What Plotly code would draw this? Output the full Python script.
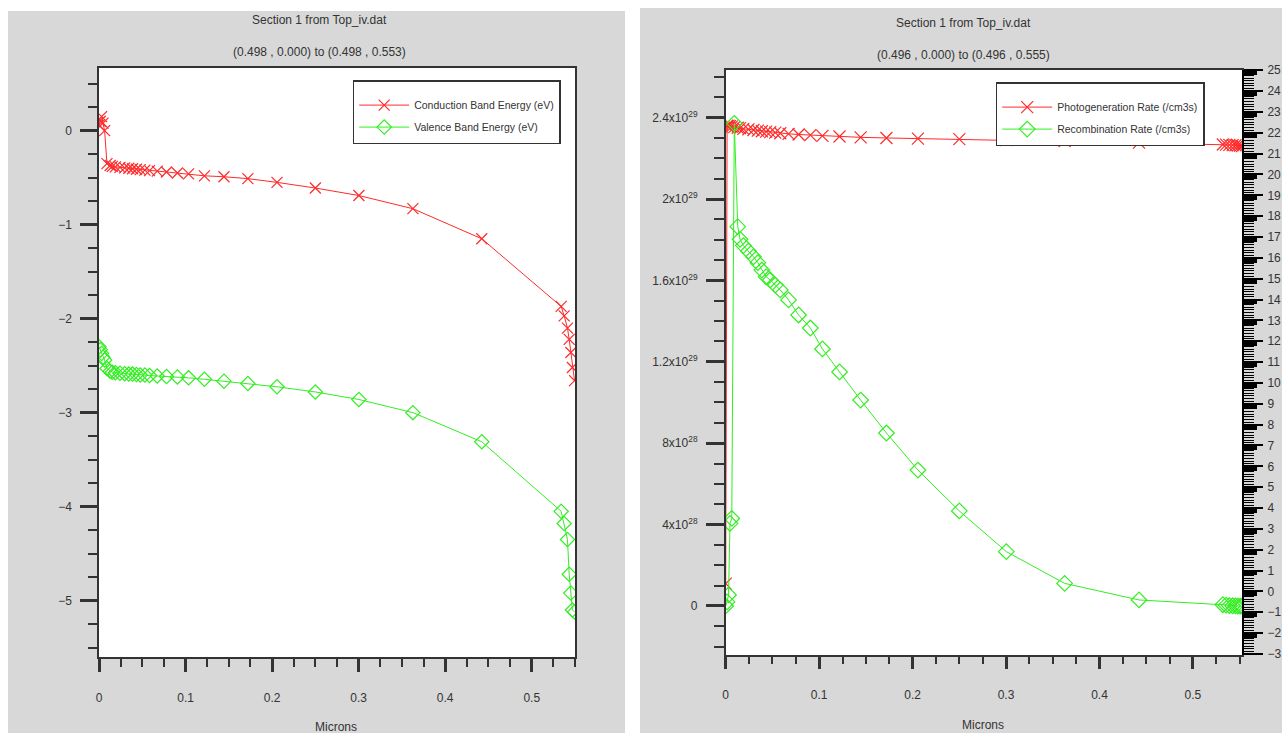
import plotly.graph_objects as go

# ---------------- data ----------------
microns_left = [0.0, 0.0015, 0.003, 0.0046, 0.0065, 0.0092, 0.0129, 0.0154, 0.0189, 0.0243,
                0.0297, 0.0344, 0.0387, 0.0433, 0.0476, 0.053, 0.0584, 0.0673, 0.078, 0.0906,
                0.1035, 0.1218, 0.1444, 0.172, 0.2057, 0.25, 0.3003, 0.3627, 0.4423,
                0.534, 0.5375, 0.5413, 0.5433, 0.5452, 0.547, 0.5495]
conduction_ev = [0.06, 0.10, 0.15, 0.08, 0.0, -0.35, -0.37, -0.38, -0.385, -0.39,
                 -0.395, -0.40, -0.405, -0.41, -0.415, -0.42, -0.425, -0.43, -0.44, -0.45,
                 -0.46, -0.48, -0.49, -0.51, -0.55, -0.61, -0.69, -0.83, -1.15,
                 -1.87, -1.97, -2.10, -2.22, -2.36, -2.52, -2.66]
valence_ev = [-2.30, -2.33, -2.37, -2.41, -2.44, -2.53, -2.56, -2.57, -2.575, -2.58,
              -2.585, -2.59, -2.59, -2.595, -2.60, -2.60, -2.605, -2.61, -2.615, -2.62,
              -2.63, -2.645, -2.665, -2.69, -2.725, -2.78, -2.86, -3.00, -3.31,
              -4.05, -4.18, -4.35, -4.72, -4.92, -5.10, -5.12]

microns_right = [0.0, 0.0015, 0.003, 0.0046, 0.0065, 0.0092, 0.0129, 0.0154, 0.0189, 0.0243,
                 0.0297, 0.0344, 0.0387, 0.0433, 0.0476, 0.053, 0.0584, 0.0673, 0.078, 0.0906,
                 0.1035, 0.1218, 0.1444, 0.172, 0.2057, 0.25, 0.3003, 0.3627, 0.4423,
                 0.532, 0.5355, 0.539, 0.5425, 0.5455, 0.548, 0.5505, 0.5525]
photogeneration = [1.1e28, 2.36e29, 2.36e29, 2.358e29, 2.356e29, 2.353e29, 2.35e29, 2.348e29, 2.345e29, 2.342e29,
                   2.339e29, 2.336e29, 2.333e29, 2.331e29, 2.329e29, 2.326e29, 2.323e29, 2.32e29, 2.317e29, 2.314e29,
                   2.31e29, 2.307e29, 2.303e29, 2.30e29, 2.297e29, 2.294e29, 2.29e29, 2.285e29, 2.277e29,
                   2.268e29, 2.267e29, 2.266e29, 2.265e29, 2.264e29, 2.263e29, 2.262e29, 2.26e29]
recombination = [0.0, 2e27, 5.4e27, 4.06e28, 4.3e28, 2.372e29, 1.864e29, 1.802e29, 1.771e29, 1.744e29,
                 1.716e29, 1.687e29, 1.651e29, 1.618e29, 1.602e29, 1.577e29, 1.553e29, 1.504e29, 1.43e29, 1.366e29,
                 1.263e29, 1.15e29, 1.012e29, 8.5e28, 6.68e28, 4.67e28, 2.67e28, 1.11e28, 2.95e27,
                 6e26, 4e26, 2e26, 1e26, 0.0, -1e26, -1e26, -1e26]

rate_tickvals = [0, 4e28, 8e28, 1.2e29, 1.6e29, 2e29, 2.4e29]
rate_ticktext = ["0", "4x10<sup>28</sup>", "8x10<sup>28</sup>", "1.2x10<sup>29</sup>",
                 "1.6x10<sup>29</sup>", "2x10<sup>29</sup>", "2.4x10<sup>29</sup>"]
right_scale_ticks = list(range(-3, 26))

left_title = "Section 1 from Top_iv.dat"
left_subtitle = "(0.498 , 0.000) to (0.498 , 0.553)"
right_title = "Section 1 from Top_iv.dat"
right_subtitle = "(0.496 , 0.000) to (0.496 , 0.555)"
x_title = "Microns"

# ---------------- helpers ----------------
W, H = 1282, 733


def px(p):
    return p / W


def py(p):
    return 1 - p / H


FONT = "Liberation Sans, Arial, sans-serif"
TXT = "#333333"
RED = "#ff2a2a"
GREEN = "#33ee22"
AX = "#333333"

fig = go.Figure()

fig.add_trace(go.Scatter(
    x=microns_left, y=conduction_ev, name="Conduction Band Energy (eV)",
    mode="lines+markers", line=dict(color=RED, width=1), legendgroup="a",
    marker=dict(symbol="x-thin", size=11, color=RED, line=dict(color=RED, width=1.2)),
    xaxis="x", yaxis="y", legend="legend"))
fig.add_trace(go.Scatter(
    x=microns_left, y=valence_ev, name="Valence Band Energy (eV)",
    mode="lines+markers", line=dict(color=GREEN, width=1), legendgroup="b",
    marker=dict(symbol="diamond-open", size=11, color=GREEN, line=dict(color=GREEN, width=1.2)),
    xaxis="x", yaxis="y", legend="legend"))
fig.add_trace(go.Scatter(
    x=microns_right, y=photogeneration, name="Photogeneration Rate (/cm3s)",
    mode="lines+markers", line=dict(color=RED, width=1), legendgroup="c",
    marker=dict(symbol="x-thin", size=12, color=RED, line=dict(color=RED, width=1.2)),
    xaxis="x2", yaxis="y2", legend="legend2"))
fig.add_trace(go.Scatter(
    x=microns_right, y=recombination, name="Recombination Rate (/cm3s)",
    mode="lines+markers", line=dict(color=GREEN, width=1), legendgroup="d",
    marker=dict(symbol="diamond-open", size=12, color=GREEN, line=dict(color=GREEN, width=1.2)),
    xaxis="x2", yaxis="y2", legend="legend2"))
fig.add_trace(go.Scatter(x=[None], y=[None], xaxis="x2", yaxis="y3",
                         showlegend=False, hoverinfo="skip"))
fig.add_trace(go.Scatter(x=[None], y=[None], xaxis="x2", yaxis="y4",
                         showlegend=False, hoverinfo="skip"))

tickfont = dict(family=FONT, size=12, color=TXT)
common = dict(showgrid=False, zeroline=False, showline=True, linecolor=AX, linewidth=1.5,
              mirror=True, ticks="outside", tickcolor=AX, tickfont=tickfont, fixedrange=True,
              automargin=False)

right_range = [-3.05, 25.01]
legend_common = dict(xanchor="left", yanchor="top", bgcolor="white", bordercolor=AX,
                     borderwidth=1.5, itemwidth=50, tracegroupgap=3,
                     font=dict(family=FONT, size=10.5, color=TXT),
                     title=dict(text="&nbsp;", font=dict(family=FONT, size=7)))

fig.update_layout(
    width=W, height=H,
    margin=dict(l=0, r=0, t=0, b=0, pad=0, autoexpand=False),
    paper_bgcolor="#d8d8d8",
    plot_bgcolor="white",
    showlegend=True,
    xaxis=dict(domain=[px(99), px(575)], anchor="y", range=[0, 0.55], dtick=0.1,
               ticklen=13, tickwidth=2.5, ticklabelstandoff=16,
               minor=dict(ticks="outside", dtick=0.025, ticklen=8, tickwidth=1.5, tickcolor=AX),
               **common),
    yaxis=dict(domain=[py(657), py(68)], anchor="x", range=[-5.6, 0.667], dtick=1,
               ticklen=17, tickwidth=3, ticklabelstandoff=6,
               minor=dict(ticks="outside", dtick=0.25, ticklen=9, tickwidth=1.8, tickcolor=AX),
               **common),
    xaxis2=dict(domain=[px(725.7), px(1242)], anchor="y2", range=[0, 0.5525], dtick=0.1,
                ticklen=12, tickwidth=2.5, ticklabelstandoff=16,
                minor=dict(ticks="outside", dtick=0.025, ticklen=7, tickwidth=1.5, tickcolor=AX),
                **common),
    yaxis2=dict(domain=[py(655), py(70)], anchor="x2", range=[-2.41e28, 2.634e29],
                tickmode="array", tickvals=rate_tickvals, ticktext=rate_ticktext,
                ticklen=18, tickwidth=3, ticklabelstandoff=6,
                minor=dict(ticks="outside", dtick=1e28, ticklen=10, tickwidth=1.8, tickcolor=AX),
                **common),
    yaxis3=dict(overlaying="y2", side="right", anchor="x2", range=right_range,
                tickmode="array", tickvals=right_scale_ticks, automargin=False,
                showgrid=False, zeroline=False, showline=True, linecolor="black", linewidth=2,
                ticks="outside", ticklen=19, tickwidth=2, tickcolor="black",
                ticklabelstandoff=2, tickfont=dict(family=FONT, size=12, color=TXT), fixedrange=True,
                minor=dict(ticks="outside", dtick=0.125, ticklen=10, tickwidth=1.4, tickcolor="black")),
    yaxis4=dict(overlaying="y2", side="right", anchor="x2", range=right_range,
                tickmode="array", tickvals=[t - 0.14 for t in right_scale_ticks], automargin=False,
                showticklabels=False, showgrid=False, zeroline=False, showline=False,
                ticks="outside", ticklen=14, tickwidth=3.5, tickcolor="black", fixedrange=True),
    legend=dict(x=px(352.7), y=py(80), **legend_common),
    legend2=dict(x=px(995.7), y=py(82), **legend_common),
)

# white page strips around the two grey panels
strips = [(0, 0, 8, H), (0, 0, 640, 11), (625, 0, 1282, 8), (625, 0, 640, H)]
for x0, y0, x1, y1 in strips:
    fig.add_shape(type="rect", xref="paper", yref="paper", x0=px(x0), x1=px(x1),
                  y0=py(y1), y1=py(y0), fillcolor="white", line=dict(width=0), layer="below")

ann_font = dict(family=FONT, size=12, color=TXT)
for text, cx, cy in [(left_title, 319, 20), (left_subtitle, 319, 52),
                     (right_title, 963, 23), (right_subtitle, 963, 55),
                     (x_title, 336, 727), (x_title, 983, 725)]:
    fig.add_annotation(text=text, x=px(cx), y=py(cy), xref="paper", yref="paper",
                       xanchor="center", yanchor="middle", showarrow=False, font=ann_font)

fig.write_html("out.html")
